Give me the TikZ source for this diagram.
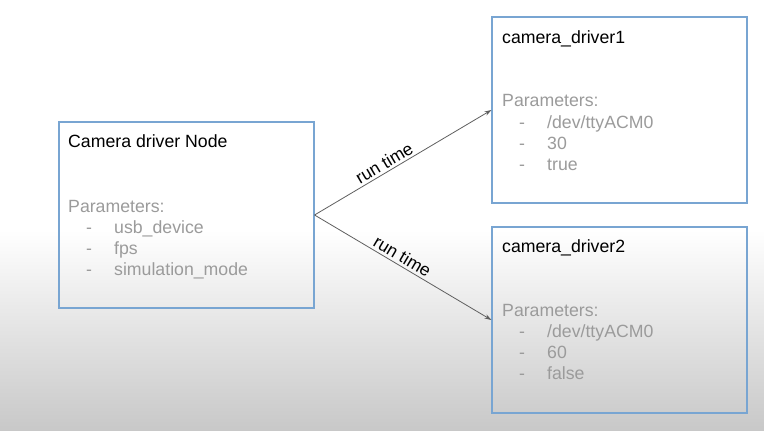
\documentclass[tikz,border=0pt]{standalone}
\usepackage{fontspec}
\setmainfont{Liberation Sans}
\usetikzlibrary{arrows.meta}
\definecolor{boxblue}{RGB}{120,165,210}
\definecolor{paramgray}{RGB}{155,155,155}
\definecolor{arrgray}{RGB}{95,95,95}
\definecolor{bggray}{RGB}{200,200,200}
\tikzset{
  boxnode/.style={draw=boxblue,line width=1.1pt,minimum width=255pt,minimum height=186pt,inner sep=0,fill=none},
  titletext/.style={anchor=base west,inner sep=0,font=\fontsize{17.7}{21}\selectfont,text=black},
  paramtext/.style={titletext,text=paramgray},
  arr/.style={draw=arrgray,line width=0.8pt,-{Stealth[length=7pt,width=4.5pt]}},
  lbl/.style={sloped,above,inner sep=2.5pt,font=\fontsize{17.5}{20}\selectfont,text=black}
}
\begin{document}
\begin{tikzpicture}[x=1pt,y=-1pt]
\useasboundingbox (0,0) rectangle (764,431);
\fill[white] (0,0) rectangle (764,231);
\shade[top color=white,bottom color=bggray] (0,230) rectangle (764,431);

% boxes
\node[boxnode] (n0) at (186.5,215) {};
\node[boxnode] (d1) at (619.5,110) {};
\node[boxnode] (d2) at (619.5,320) {};

% left box text
\node[titletext] (t0) at (68,147) {Camera driver Node};
\node[paramtext] (p0) at (68,212) {Parameters:};
\node[paramtext] (p0a) at (86,233) {-};
\node[paramtext] (p0ax) at (114,233) {usb\_device};
\node[paramtext] (p0b) at (86,254) {-};
\node[paramtext] (p0bx) at (114,254) {fps};
\node[paramtext] (p0c) at (86,275) {-};
\node[paramtext] (p0cx) at (114,275) {simulation\_mode};

% box 1 text
\node[titletext] (t1) at (502,43) {camera\_driver1};
\node[paramtext] (p1) at (502,106) {Parameters:};
\node[paramtext] (p1a) at (519,128) {-};
\node[paramtext] (p1ax) at (547,128) {/dev/ttyACM0};
\node[paramtext] (p1b) at (519,149) {-};
\node[paramtext] (p1bx) at (547,149) {30};
\node[paramtext] (p1c) at (519,170) {-};
\node[paramtext] (p1cx) at (547,170) {true};

% box 2 text
\node[titletext] (t2) at (502,252) {camera\_driver2};
\node[paramtext] (p2) at (502,316) {Parameters:};
\node[paramtext] (p2a) at (519,337) {-};
\node[paramtext] (p2ax) at (547,337) {/dev/ttyACM0};
\node[paramtext] (p2b) at (519,358) {-};
\node[paramtext] (p2bx) at (547,358) {60};
\node[paramtext] (p2c) at (519,379) {-};
\node[paramtext] (p2cx) at (547,379) {false};

% connectors
\draw[arr] (n0.east) -- node[lbl,pos=0.42] (l1) {run time} (d1.west);
\draw[arr] (n0.east) -- node[lbl,pos=0.47] (l2) {run time} (d2.west);
\end{tikzpicture}
\end{document}
